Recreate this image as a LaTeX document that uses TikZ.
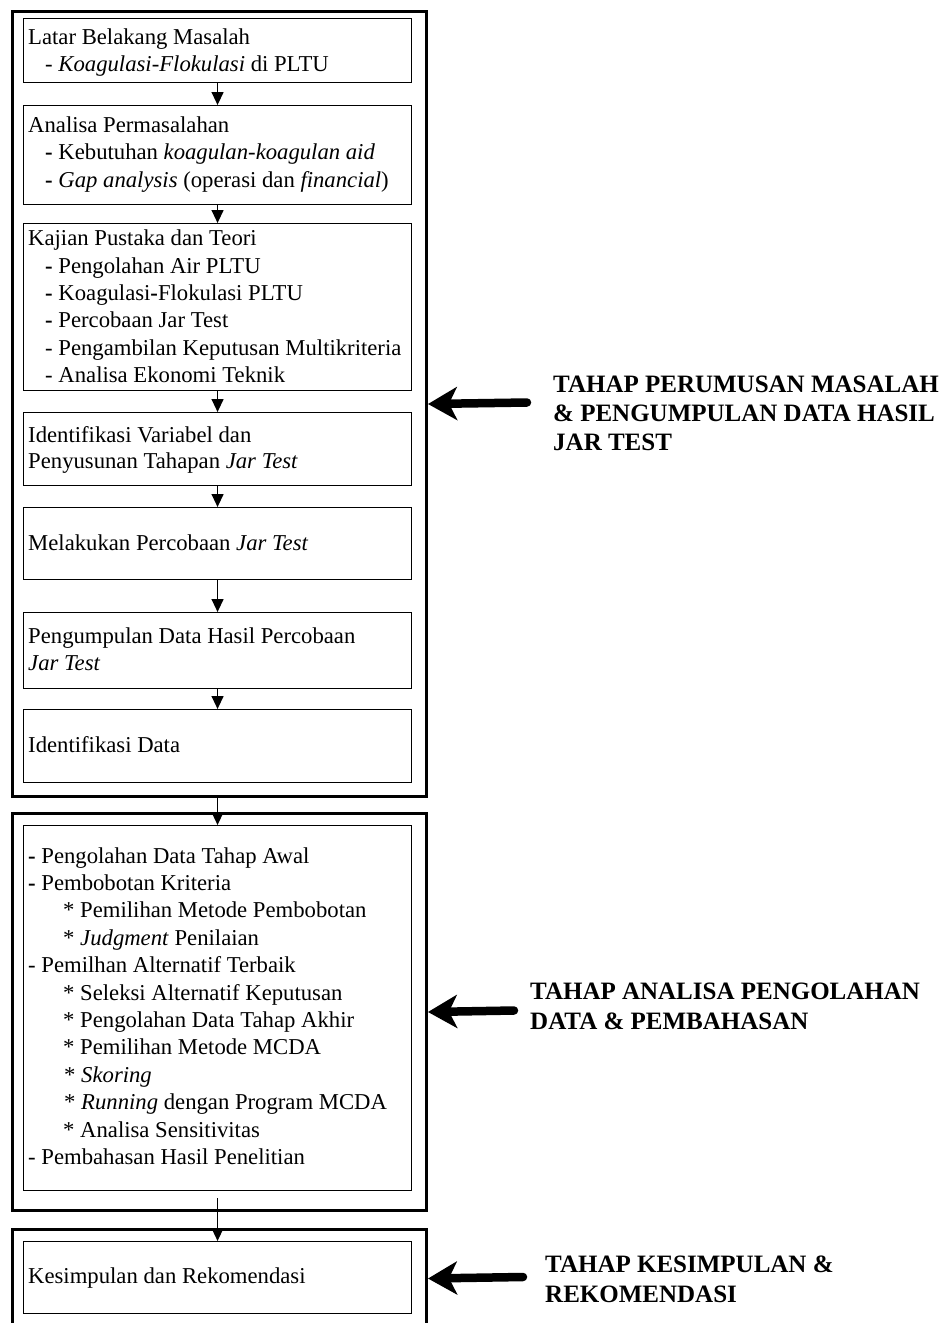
\documentclass[tikz,border=0pt]{standalone}
\usepackage{fontspec}
\setmainfont{Liberation Serif}
\usetikzlibrary{arrows.meta,calc}

\begin{document}
\begin{tikzpicture}[x=1pt,y=-1pt,
  stage/.style={draw, line width=3pt, inner sep=0pt, anchor=north west, minimum width=414pt},
  stepbox/.style={draw, line width=1.1pt, inner sep=0pt, anchor=north west, minimum width=388pt},
  txt/.style={anchor=base west, inner sep=0pt, font=\fontsize{22.7}{27.4}\selectfont},
  lbl/.style={anchor=base west, inner sep=0pt, font=\fontsize{25}{29}\selectfont\bfseries},
  flow/.style={-{Triangle[length=13pt,width=12pt]}, line width=1.3pt},
  pointer/.style={-{Stealth[length=29pt,width=33pt,inset=8pt]}, line width=8.5pt, line cap=round}]

\useasboundingbox (0,0) rectangle (943,1323);
\clip (0,0) rectangle (943,1323);

% stage frames
\node[stage, minimum height=785pt] (stage1) at (11,10) {};
\node[stage, minimum height=397pt] (stage2) at (11,812) {};
\node[stage, minimum height=98pt]  (stage3) at (11,1228) {};

% step boxes
\node[stepbox, minimum height=64pt]  (b1) at (23,18) {};
\node[stepbox, minimum height=99pt]  (b2) at (23,105) {};
\node[stepbox, minimum height=167pt] (b3) at (23,223) {};
\node[stepbox, minimum height=73pt]  (b4) at (23,412) {};
\node[stepbox, minimum height=72pt]  (b5) at (23,507) {};
\node[stepbox, minimum height=76pt]  (b6) at (23,612) {};
\node[stepbox, minimum height=73pt]  (b7) at (23,709) {};
\node[stepbox, minimum height=365pt] (b8) at (23,825) {};
\node[stepbox, minimum height=72pt]  (b9) at (23,1241) {};

% box texts
\node[txt] (t1a) at (28,44) {Latar Belakang Masalah};
\node[txt] (t1b) at (45,71) {\textit{- Koagulasi-Flokulasi} di PLTU};

\node[txt] (t2a) at (28,132) {Analisa Permasalahan};
\node[txt] (t2b) at (45,159) {\textbf{-} Kebutuhan \textit{koagulan}-\textit{koagulan aid}};
\node[txt] (t2c) at (45,187) {\textbf{-} \textit{Gap analysis} (operasi dan \textit{financial})};

\node[txt] (t3a) at (28,245) {Kajian Pustaka dan Teori};
\node[txt] (t3b) at (45,273) {\textbf{-} Pengolahan Air PLTU};
\node[txt] (t3c) at (45,300) {\textbf{-} Koagulasi\textbf{-}Flokulasi PLTU};
\node[txt] (t3d) at (45,327) {\textbf{-} Percobaan Jar Test};
\node[txt] (t3e) at (45,355) {- Pengambilan Keputusan Multikriteria};
\node[txt] (t3f) at (45,382) {- Analisa Ekonomi Teknik};

\node[txt] (t4a) at (28,442) {Identifikasi Variabel dan};
\node[txt] (t4b) at (28,468) {Penyusunan Tahapan \textit{Jar Test}};

\node[txt] (t5a) at (28,550) {Melakukan Percobaan \textit{Jar Test}};

\node[txt] (t6a) at (28,643) {Pengumpulan Data Hasil Percobaan};
\node[txt] (t6b) at (28,670) {\textit{Jar Test}};

\node[txt] (t7a) at (28,752) {Identifikasi Data};

\node[txt] (t8a) at (28,863)   {\textbf{-} Pengolahan Data Tahap Awal};
\node[txt] (t8b) at (28,890.4) {\textbf{-} Pembobotan Kriteria};
\node[txt] (t8c) at (63,917.8) {* Pemilihan Metode Pembobotan};
\node[txt] (t8d) at (63,945.2) {* \textit{Judgment} Penilaian};
\node[txt] (t8e) at (28,972.6) {- Pemilhan Alternatif Terbaik};
\node[txt] (t8f) at (63,1000)  {* Seleksi Alternatif Keputusan};
\node[txt] (t8g) at (63,1027.4){* Pengolahan Data Tahap Akhir};
\node[txt] (t8h) at (63,1054.8){* Pemilihan Metode MCDA};
\node[txt] (t8i) at (64,1082.2){* \textit{Skoring}};
\node[txt] (t8j) at (64,1109.6){* \textit{Running} dengan Program MCDA};
\node[txt] (t8k) at (63,1137)  {* Analisa Sensitivitas};
\node[txt] (t8l) at (28,1164.4){- Pembahasan Hasil Penelitian};

\node[txt] (t9a) at (28,1283) {Kesimpulan dan Rekomendasi};

% flow between steps
\draw[flow] (b1.south) -- (b2.north);
\draw[flow] (b2.south) -- (b3.north);
\draw[flow] (b3.south) -- (b4.north);
\draw[flow] (b4.south) -- (b5.north);
\draw[flow] (b5.south) -- (b6.north);
\draw[flow] (b6.south) -- (b7.north);
\draw[flow] (b8.north |- stage1.south) -- (b8.north);
\draw[flow] ($(b8.south)+(0,7)$) -- (b9.north);

% stage labels with pointers
\coordinate (p1) at (527,402.5);
\coordinate (p2) at (514,1010.5);
\coordinate (p3) at (523,1277);
\draw[pointer] (p1) -- (stage1.east);
\draw[pointer] (p2) -- (stage2.east);
\draw[pointer] (p3) -- (stage3.east);

\node[lbl] (l1a) at (553,392) {TAHAP PERUMUSAN MASALAH};
\node[lbl] (l1b) at (553,421) {\& PENGUMPULAN DATA HASIL};
\node[lbl] (l1c) at (553,450) {JAR TEST};

\node[lbl] (l2a) at (530,999)  {TAHAP ANALISA PENGOLAHAN};
\node[lbl] (l2b) at (530,1029) {DATA \& PEMBAHASAN};

\node[lbl] (l3a) at (545,1272) {TAHAP KESIMPULAN \&};
\node[lbl] (l3b) at (545,1302) {REKOMENDASI};
\end{tikzpicture}
\end{document}
